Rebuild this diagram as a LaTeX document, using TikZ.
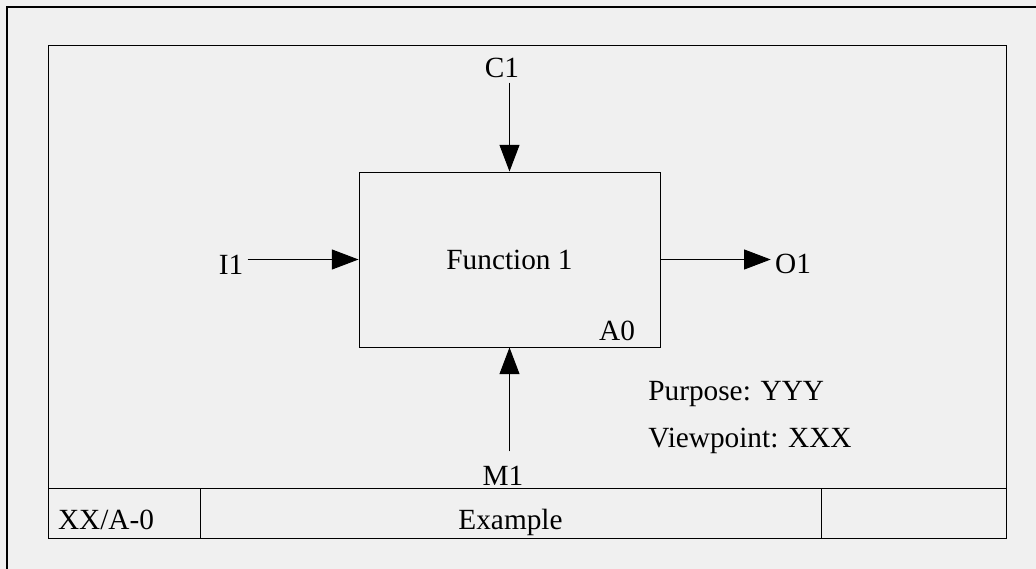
\documentclass[tikz,border=0pt]{standalone}
\usepackage{fontspec}
\setmainfont{Liberation Serif}
\usetikzlibrary{arrows.meta}
\definecolor{paper}{RGB}{240,240,240}
\begin{document}
\begin{tikzpicture}[x=0.03cm, y=-0.03cm, >={Triangle[length=0.8cm, width=0.6cm]},
  font=\fontsize{25}{30}\selectfont, line width=0.8pt]
\useasboundingbox[fill=paper] (0,0) rectangle (1036,569);

% frames
\draw[line width=1.6pt] (7,569) |- (1036,7);
\draw (48,45) rectangle (1006,538);
\draw (48,488) -- (1006,488);
\draw (200,488) -- (200,538);
\draw (821,488) -- (821,538);

\node(F) at (509.5,259.5)[rectangle, draw, minimum width=9.03cm, minimum height=5.25cm]{Function 1};
\node(A) at (617,340)[anchor=base]{A0};

\node(C) at (502,78)[anchor=base]{C1};
\node(I) at (231,275)[anchor=base]{I1};
\node(O) at (793,273)[anchor=base]{O1};
\node(M) at (503,485)[anchor=base]{M1};

\draw[->](C.south -| F.north) -- (F.north);
\draw[->](I.east |- F.west) -- (F.west);
\draw[->](F.east) -- (F.east -| O.west);
\draw[->, shorten <=0.3cm](M.north -| F.south) -- (F.south);

\node(P) at (644,400)[anchor=base west]{Purpose: YYY};
\node(V) at (644,447)[anchor=base west]{Viewpoint: XXX};

\node(N) at (106,529)[anchor=base]{XX/A-0};
\node(E) at (510.5,529)[anchor=base]{Example};

\end{tikzpicture}
\end{document}
